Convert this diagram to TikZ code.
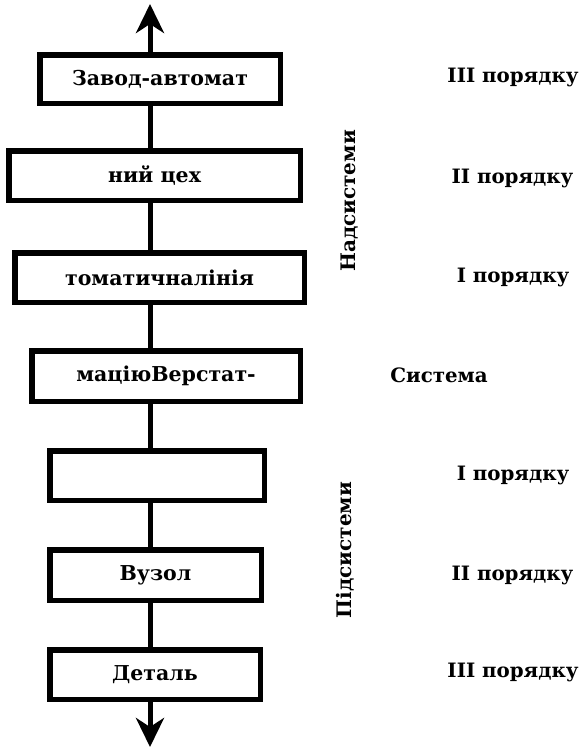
\documentclass[tikz,border=0pt]{standalone}
\usepackage{fontspec}
\setmainfont{DejaVu Serif}
\usetikzlibrary{arrows.meta}
\begin{document}
\begin{tikzpicture}[x=1pt,y=-1pt,
  box/.style={draw=black, line width=5.5pt, fill=white, inner sep=0pt,
    font=\fontsize{20.5}{23}\selectfont\bfseries},
  lbl/.style={inner sep=0pt, font=\fontsize{19.8}{22}\selectfont\bfseries},
  side/.style={inner sep=0pt, rotate=90, font=\fontsize{20}{22}\selectfont\bfseries},
  spine/.style={line width=5pt},
  tip/.style={-{Stealth[length=29pt,width=28pt,inset=9pt]}}]
\useasboundingbox (0,0) rectangle (581,747);
\coordinate (axis) at (150,0);
\coordinate (top) at (150,4);
\coordinate (bottom) at (150,747);

% hierarchy boxes
\node[box, minimum width=240.5, minimum height=48.5] (b1) at (160,79) {Завод-автомат};
\node[box, minimum width=291.5, minimum height=49.5] (b2) at (154.5,175.5) {ний цех};
\node[box, minimum width=289.5, minimum height=49.5] (b3) at (159.5,277.5) {томатичналінія};
\node[box, minimum width=268.5, minimum height=50.5] (b4) at (166,376) {маціюВерстат-};
\node[box, minimum width=214.5, minimum height=49.5] (b5) at (157,475.5) {};
\node[box, minimum width=211.5, minimum height=50.5] (b6) at (155.5,575) {Вузол};
\node[box, minimum width=210.5, minimum height=49.5] (b7) at (155,674.5) {Деталь};

% vertical spine
\draw[spine, tip] (b1.north -| axis) -- (top);
\foreach \a/\b in {b1/b2, b2/b3, b3/b4, b4/b5, b5/b6, b6/b7}
  \draw[spine] (\a.south -| axis) -- (\b.north -| axis);
\draw[spine, tip] (b7.south -| axis) -- (bottom);

% level labels
\node[lbl] (o1) at (513,77) {III порядку};
\node[lbl] (o2) at (512.5,178) {II порядку};
\node[lbl] (o3) at (513,277) {I порядку};
\node[lbl] (sys) at (439,375) {Система};
\node[lbl] (u1) at (513,475) {I порядку};
\node[lbl] (u2) at (512.5,575) {II порядку};
\node[lbl] (u3) at (513,672) {III порядку};
\node[side] (over) at (350,201) {Надсистеми};
\node[side] (under) at (345,550) {Підсистеми};
\end{tikzpicture}
\end{document}
